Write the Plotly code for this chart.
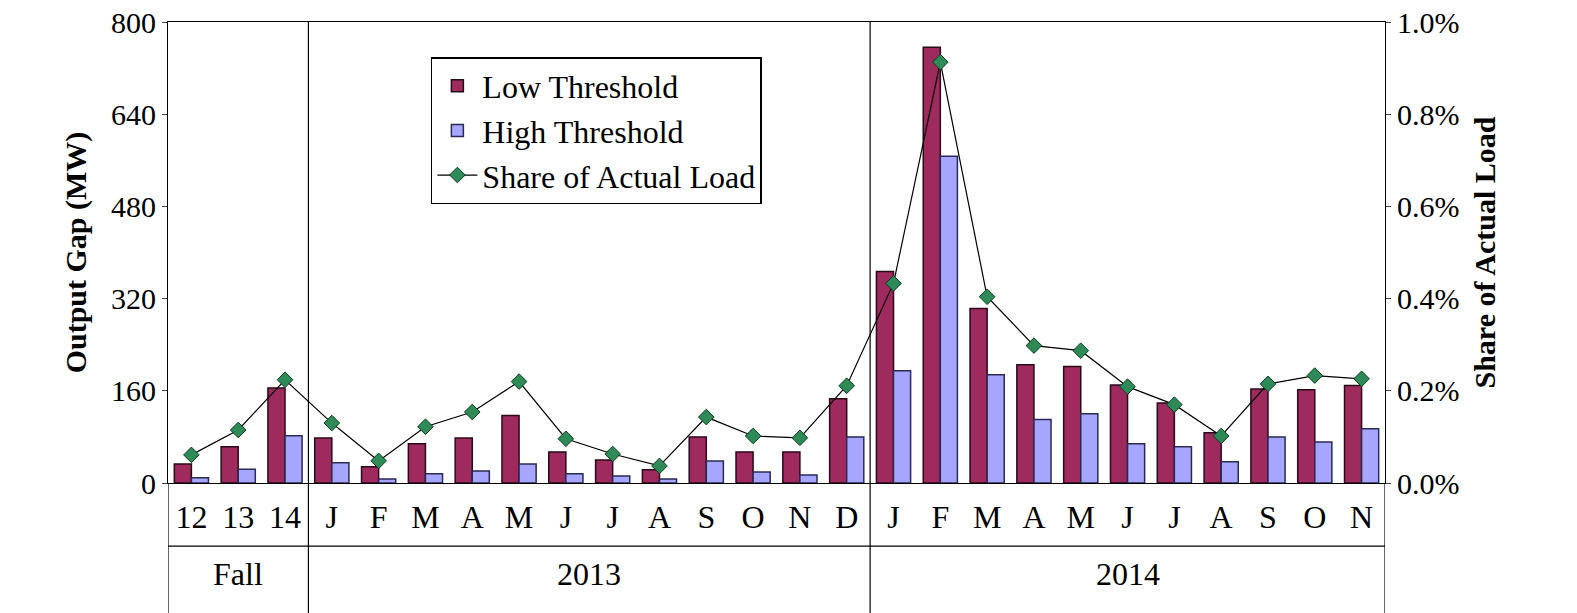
import plotly.graph_objects as go

labels = ["12","13","14","J","F","M","A","M","J","J","A","S","O","N","D",
          "J","F","M","A","M","J","J","A","S","O","N"]
low = [33,63,165,78,28,68,78,117,54,40,23,80,54,54,146,
       367,756,303,205,202,170,139,87,163,162,169]
high = [9,24,82,35,7,16,21,33,16,12,7,38,19,14,80,
        195,567,188,110,120,68,63,37,80,71,94]
share = [0.061,0.115,0.224,0.130,0.048,0.122,0.154,0.220,0.096,0.063,0.037,0.143,0.102,0.098,0.211,
         0.433,0.913,0.404,0.298,0.287,0.209,0.170,0.102,0.215,0.233,0.226]
share = [s/100 for s in share]
groups = [("Fall", 1), ("2013", 8.5), ("2014", 20)]
x = list(range(len(labels)))

F = "Liberation Serif"
fig = go.Figure()
fig.add_bar(x=x, y=low, name="Low Threshold", marker=dict(color="#9E2A5E", line=dict(color="#2a0a18", width=1.5)))
fig.add_bar(x=x, y=high, name="High Threshold", marker=dict(color="#A6A6FF", line=dict(color="#2a2a55", width=1.5)))
fig.add_scatter(x=x, y=share, name="Share of Actual Load", yaxis="y2", mode="lines+markers",
                line=dict(color="black", width=1.2),
                marker=dict(symbol="diamond", size=12, color="#2E8B57", line=dict(color="#0b3b20", width=1)))

shapes = []
for xv in [2.5, 14.5]:
    shapes.append(dict(type="line", xref="x", yref="paper", x0=xv, x1=xv, y0=-0.31, y1=1, line=dict(color="black", width=1.2)))
for xv in [-0.5, 25.5]:
    shapes.append(dict(type="line", xref="x", yref="paper", x0=xv, x1=xv, y0=-0.31, y1=0, line=dict(color="black", width=1.2)))
shapes.append(dict(type="line", xref="x", yref="paper", x0=-0.5, x1=25.5, y0=-0.137, y1=-0.137, line=dict(color="black", width=1.2)))
ann = [dict(x=xv, y=-0.24, xref="x", yref="paper", text=t, showarrow=False, font=dict(family=F, size=32, color="black")) for t, xv in groups]

fig.update_layout(
    width=1577, height=613, plot_bgcolor="white", paper_bgcolor="white",
    margin=dict(l=160, r=200, t=14, b=138, autoexpand=False),
    barmode="group", bargap=0.27, bargroupgap=0.0,
    font=dict(family=F, size=30, color="black"),
    xaxis=dict(range=[-0.5, 25.5], tickvals=x, ticktext=labels, ticks="", showline=True, linecolor="black",
               mirror=True, tickfont=dict(size=32), showgrid=False, automargin=False, ticklabelstandoff=6),
    yaxis=dict(range=[0, 800], tickvals=[0,160,320,480,640,800], showline=True, linecolor="black", showgrid=False,
               automargin=False, title=dict(text="<b>Output Gap (MW)</b>", font=dict(size=30), standoff=15),
               ticks="outside", tickfont=dict(size=30), ticklabeloverflow="allow"),
    yaxis2=dict(range=[0, 0.01], overlaying="y", side="right", tickformat=".1%", dtick=0.002, showline=True,
                linecolor="black", showgrid=False, ticks="outside", tickfont=dict(size=30), automargin=False,
                ticklabeloverflow="allow",
                title=dict(text="<b>Share of Actual Load</b>", font=dict(size=30), standoff=15)),
    legend=dict(x=0.216, y=0.924, xanchor="left", yanchor="top", bordercolor="black", borderwidth=1.5,
                bgcolor="white", font=dict(size=32), itemwidth=40, tracegroupgap=8),
    shapes=shapes, annotations=ann, showlegend=True,
)
fig.write_html("out.html")
